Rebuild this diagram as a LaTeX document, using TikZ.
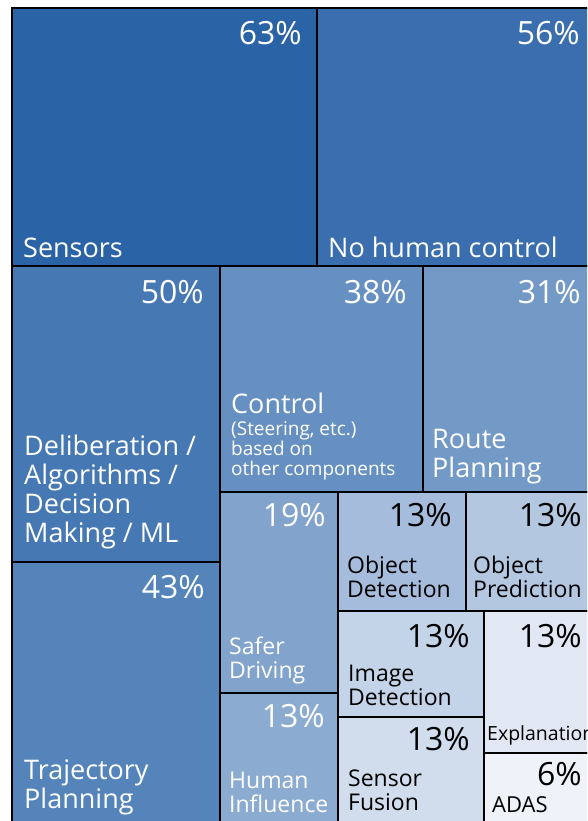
\documentclass[tikz,border=0pt]{standalone}
\usepackage{fontspec}
\setmainfont{Open Sans}
\usetikzlibrary{positioning}
\definecolor{sensblue}{HTML}{2A63A6}
\definecolor{nohcblue}{HTML}{3A6EAE}
\definecolor{delibblue}{HTML}{4678B3}
\definecolor{trajblue}{HTML}{5484BA}
\definecolor{ctrlblue}{HTML}{6690C2}
\definecolor{routeblue}{HTML}{7399C7}
\definecolor{saferblue}{HTML}{81A3CC}
\definecolor{humanblue}{HTML}{8BABD1}
\definecolor{objdetblue}{HTML}{A5BCDC}
\definecolor{objpredblue}{HTML}{B3C7E1}
\definecolor{imgblue}{HTML}{C4D4E8}
\definecolor{fusblue}{HTML}{D1DDED}
\definecolor{explblue}{HTML}{E1E8F3}
\definecolor{adasblue}{HTML}{EFF3F9}

\begin{document}
\begin{tikzpicture}[
    x=1pt, y=-1pt,
    tile/.style={draw=black, line width=2pt, anchor=north west, inner sep=0pt, outer sep=0pt},
    pct/.style={anchor=base east, inner sep=0pt, text=white, font=\fontsize{32}{34}\selectfont},
    lbl/.style={anchor=base west, align=left, inner sep=0pt, text=white, font=\fontsize{27}{29}\selectfont},
    mid/.style={lbl, font=\fontsize{23}{24}\selectfont},
    sml/.style={lbl, font=\fontsize{19}{20}\selectfont}
  ]
    \useasboundingbox (0,0) rectangle (587,821);
    \clip (0,0) rectangle (587,821);

    % tiles
    \node[tile, fill=sensblue, minimum width=305pt, minimum height=258pt] (sens) at (12,8) {};
    \node[tile, fill=nohcblue, minimum width=278pt, minimum height=258pt] (nohc) at (317,8) {};
    \node[tile, fill=delibblue, minimum width=208pt, minimum height=296pt] (delib) at (12,266) {};
    \node[tile, fill=trajblue, minimum width=208pt, minimum height=266pt] (traj) at (12,562) {};
    \node[tile, fill=ctrlblue, minimum width=203pt, minimum height=226pt] (ctrl) at (220,266) {};
    \node[tile, fill=routeblue, minimum width=172pt, minimum height=226pt] (route) at (423,266) {};
    \node[tile, fill=saferblue, minimum width=118pt, minimum height=201pt] (safer) at (220,492) {};
    \node[tile, fill=humanblue, minimum width=118pt, minimum height=135pt] (human) at (220,693) {};
    \node[tile, fill=objdetblue, minimum width=128pt, minimum height=119pt] (objdet) at (338,492) {};
    \node[tile, fill=objpredblue, minimum width=129pt, minimum height=119pt] (objpred) at (466,492) {};
    \node[tile, fill=imgblue, minimum width=146pt, minimum height=106pt] (imgdet) at (338,611) {};
    \node[tile, fill=fusblue, minimum width=146pt, minimum height=111pt] (sfus) at (338,717) {};
    \node[tile, fill=explblue, minimum width=111pt, minimum height=142pt] (expl) at (484,611) {};
    \node[tile, fill=adasblue, minimum width=111pt, minimum height=75pt] (adas) at (484,753) {};

    % percentages
    \node[pct] (sens-p) at ([shift={(-15,37)}]sens.north east) {63\%};
    \node[pct] (nohc-p) at ([shift={(-15,37)}]nohc.north east) {56\%};
    \node[pct] (delib-p) at ([shift={(-16,37)}]delib.north east) {50\%};
    \node[pct] (traj-p) at ([shift={(-15,36)}]traj.north east) {43\%};
    \node[pct] (ctrl-p) at ([shift={(-16,37)}]ctrl.north east) {38\%};
    \node[pct] (route-p) at ([shift={(-14,37)}]route.north east) {31\%};
    \node[pct] (safer-p) at ([shift={(-12,34)}]safer.north east) {19\%};
    \node[pct] (human-p) at ([shift={(-13,34)}]human.north east) {13\%};
    \node[pct, text=black] (objdet-p) at ([shift={(-14,34)}]objdet.north east) {13\%};
    \node[pct, text=black] (objpred-p) at ([shift={(-13,34)}]objpred.north east) {13\%};
    \node[pct, text=black] (imgdet-p) at ([shift={(-14,36)}]imgdet.north east) {13\%};
    \node[pct, text=black] (sfus-p) at ([shift={(-14,33)}]sfus.north east) {13\%};
    \node[pct, text=black] (expl-p) at ([shift={(-13,36)}]expl.north east) {13\%};
    \node[pct, text=black] (adas-p) at ([shift={(-13,32)}]adas.north east) {6\%};

    % labels
    \node[lbl] (sens-l) at ([shift={(11,-9)}]sens.south west) {Sensors};
    \node[lbl] (nohc-l) at ([shift={(11,-9)}]nohc.south west) {No human control};
    \node[lbl] (delib-l) at ([shift={(12,-20)}]delib.south west) {Deliberation /\\Algorithms /\\Decision\\Making / ML};
    \node[lbl] (traj-l) at ([shift={(12,-20)}]traj.south west) {Trajectory\\Planning};
    \node[lbl] (ctrl-l) at ([shift={(11,-79)}]ctrl.south west) {Control};
    \node[sml] (ctrl-s) at ([shift={(11,-17)}]ctrl.south west) {(Steering, etc.)\\based on\\other components};
    \node[lbl] (route-l) at ([shift={(9,-15)}]route.south west) {Route\\Planning};
    \node[mid] (safer-l) at ([shift={(9,-15)}]safer.south west) {Safer\\Driving};
    \node[mid] (human-l) at ([shift={(9,-16)}]human.south west) {Human\\Influence};
    \node[mid, text=black] (objdet-l) at ([shift={(9,-14)}]objdet.south west) {Object\\Detection};
    \node[mid, text=black] (objpred-l) at ([shift={(7,-14)}]objpred.south west) {Object\\Prediction};
    \node[mid, text=black] (imgdet-l) at ([shift={(10,-12)}]imgdet.south west) {Image\\Detection};
    \node[mid, text=black] (sfus-l) at ([shift={(10,-18)}]sfus.south west) {Sensor\\Fusion};
    \node[lbl, text=black, font=\fontsize{19.5}{21}\selectfont] (expl-l) at ([shift={(3,-13)}]expl.south west) {Explanation};
    \node[mid, text=black, font=\fontsize{22}{24}\selectfont] (adas-l) at ([shift={(8,-16)}]adas.south west) {ADAS};
  \end{tikzpicture}
\end{document}
